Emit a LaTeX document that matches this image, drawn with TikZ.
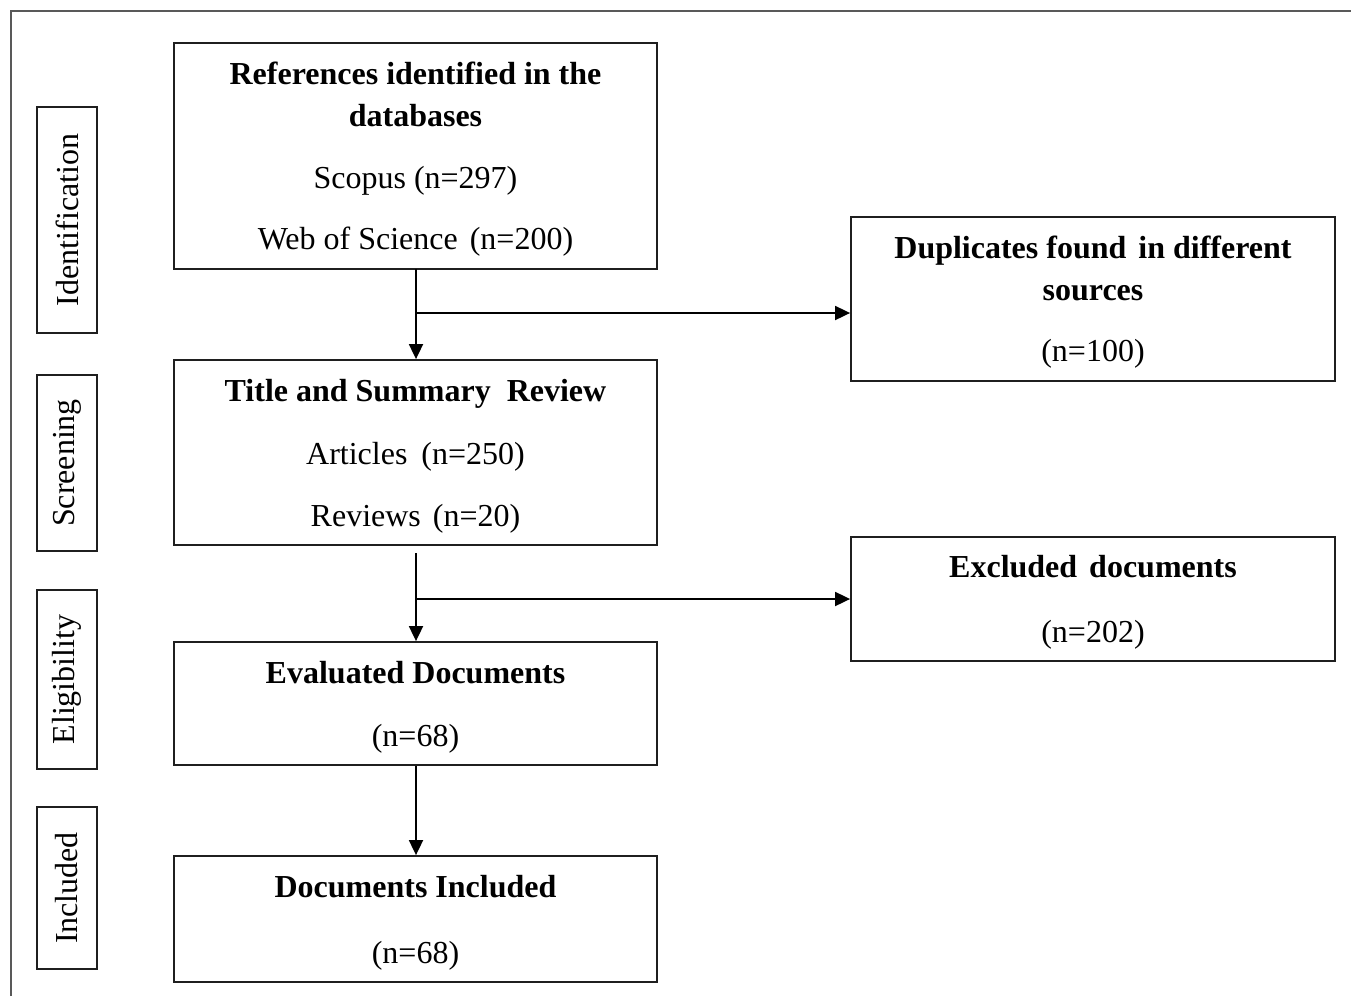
\documentclass[tikz,border=0pt]{standalone}
\usepackage{fontspec}
\setmainfont{Liberation Serif}
\usetikzlibrary{arrows.meta}
\newcommand\tup{\rule{0pt}{29.5pt}}
\begin{document}
\begin{tikzpicture}[x=1pt,y=-1pt,
  box/.style={draw=black!88, line width=1.8pt, inner sep=0pt, align=center,
    font=\fontsize{32}{42}\selectfont},
  side/.style={draw=black!88, line width=1.8pt, inner sep=0pt, minimum width=60pt,
    font=\fontsize{32}{38}\selectfont},
  arr/.style={line width=1.8pt, draw=black, -{Triangle[length=15pt,width=14pt]}},
  ln/.style={line width=1.8pt, draw=black}]
\useasboundingbox (0,0) rectangle (1351,996);
% outer frame
\coordinate (fa) at (11,996);
\coordinate (fb) at (11,11);
\coordinate (fc) at (1351,11);
\draw[line width=1.5pt, draw=black!65] (fa) -- (fb) -- (fc);
% side labels
\node[side, minimum height=226pt] (sid) at (67,220) {\rotatebox{90}{Identification}};
\node[side, minimum height=176pt] (ssc) at (67,463) {\rotatebox{90}{Screening}};
\node[side, minimum height=179pt] (sel) at (67,679.5) {\rotatebox{90}{Eligibility}};
\node[side, minimum height=162pt] (sin) at (67,888) {\rotatebox{90}{Included}};
% main boxes
\node[box, minimum width=483pt, minimum height=226pt] (b1) at (415.5,156)
  {\tup\textbf{References identified in the}\\ \textbf{databases}\\[20pt]
   Scopus (n=297)\\[19pt] Web of Science\hspace{4pt} (n=200)};
\node[box, minimum width=483pt, minimum height=185pt] (b2) at (415.5,452.5)
  {\tup\textbf{Title and Summary\hspace{8pt} Review}\\[21pt]
   Articles\hspace{6pt} (n=250)\\[20pt] Reviews\hspace{4pt} (n=20)};
\node[box, minimum width=483pt, minimum height=123pt] (b3) at (415.5,703.5)
  {\tup\textbf{Evaluated Documents}\\[21pt] (n=68)};
\node[box, minimum width=483pt, minimum height=126pt] (b4) at (415.5,919)
  {\tup\textbf{Documents Included}\\[24pt] (n=68)};
\node[box, minimum width=484pt, minimum height=164pt] (dup) at (1093,299)
  {\tup\textbf{Duplicates found\hspace{4pt} in different}\\ \textbf{sources}\\[19pt] (n=100)};
\node[box, minimum width=484pt, minimum height=124pt] (exc) at (1093,599)
  {\tup\textbf{Excluded\hspace{4pt} documents}\\[23pt] (n=202)};
% connectors
\coordinate (t1) at (416,269);
\coordinate (j1) at (416,313);
\coordinate (t2) at (416,553);
\coordinate (j2) at (416,599);
\draw[arr] (t1) -- (t1 |- b2.north);
\draw[arr] (j1) -- (j1 -| dup.west);
\draw[arr] (t2) -- (t2 |- b3.north);
\draw[arr] (j2) -- (j2 -| exc.west);
\draw[arr] (b3.south -| t1) -- (b4.north -| t1);
\end{tikzpicture}
\end{document}
